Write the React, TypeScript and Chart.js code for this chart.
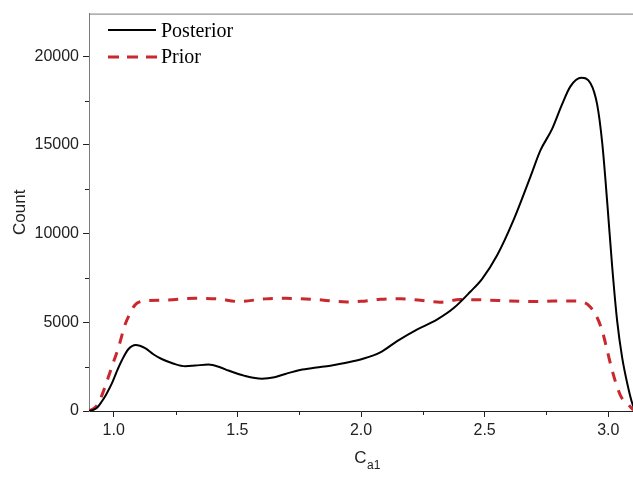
import { useEffect, useRef } from 'react';
import { Chart, registerables } from 'chart.js';

Chart.register(...registerables);

// ---- data ----
const POSTERIOR_X = [0.9, 0.93, 0.951, 0.97, 0.992, 1.01, 1.032, 1.059, 1.089, 1.127, 1.16, 1.194, 1.24, 1.289, 1.33, 1.383, 1.43, 1.464, 1.53, 1.599, 1.65, 1.694, 1.754, 1.82, 1.876, 1.94, 2.005, 2.078, 2.146, 2.226, 2.307, 2.375, 2.442, 2.49, 2.55, 2.618, 2.685, 2.726, 2.773, 2.813, 2.847, 2.891, 2.928, 2.955, 2.976, 2.996, 3.016, 3.036, 3.056, 3.077, 3.097, 3.11];
const POSTERIOR_Y = [0, 150, 520, 950, 1540, 2150, 2830, 3480, 3720, 3540, 3200, 2930, 2680, 2520, 2560, 2620, 2470, 2280, 1980, 1820, 1900, 2090, 2316, 2450, 2555, 2720, 2930, 3300, 3940, 4590, 5150, 5800, 6720, 7450, 8760, 10800, 13200, 14700, 15900, 17280, 18300, 18780, 18480, 17280, 15050, 11720, 8100, 5060, 3020, 1540, 430, 0];

const PRIOR_X = [0.9, 0.92, 0.938, 0.958, 0.978, 1.0, 1.019, 1.046, 1.066, 1.086, 1.11, 1.127, 1.221, 1.329, 1.423, 1.504, 1.613, 1.694, 1.8, 1.943, 2.0, 2.078, 2.159, 2.24, 2.32, 2.4, 2.5, 2.604, 2.712, 2.78, 2.861, 2.895, 2.915, 2.949, 2.976, 2.996, 3.016, 3.036, 3.056, 3.077, 3.095, 3.11];
const PRIOR_Y = [0, 150, 430, 1100, 1900, 2800, 3570, 4870, 5500, 5980, 6180, 6220, 6260, 6350, 6320, 6170, 6320, 6350, 6300, 6150, 6180, 6300, 6330, 6240, 6130, 6280, 6260, 6200, 6170, 6200, 6200, 6150, 6020, 5430, 4500, 3390, 2280, 1350, 700, 430, 150, 0];

const SERIES_NAMES = ['Posterior', 'Prior'];
const X_TICKS = [1.0, 1.5, 2.0, 2.5, 3.0];
const X_MINOR = [1.25, 1.75, 2.25, 2.75];
const Y_TICKS = [0, 5000, 10000, 15000, 20000];
const Y_MINOR = [2500, 7500, 12500, 17500];
const X_TITLE_MAIN = 'C';
const X_TITLE_SUB = 'a1';
const Y_TITLE = 'Count';

const RED = '#c8282e';
const SANS = '"Liberation Sans", Arial, sans-serif';
const SERIF = '"Liberation Serif", "Times New Roman", serif';

const decor = {
  id: 'decor',
  afterDraw(chart: any) {
    const { ctx, chartArea, scales } = chart;
    const { left, right, top, bottom } = chartArea;
    ctx.save();
    // top frame line
    ctx.strokeStyle = '#7a7a7a';
    ctx.lineWidth = 1;
    ctx.beginPath();
    ctx.moveTo(left, top + 0.5);
    ctx.lineTo(right, top + 0.5);
    ctx.stroke();

    // minor ticks
    ctx.strokeStyle = '#222';
    ctx.beginPath();
    X_MINOR.forEach((v) => {
      const px = Math.round(scales.x.getPixelForValue(v)) + 0.5;
      ctx.moveTo(px, bottom);
      ctx.lineTo(px, bottom + 4);
    });
    Y_MINOR.forEach((v) => {
      const py = Math.round(scales.y.getPixelForValue(v)) + 0.5;
      ctx.moveTo(left, py);
      ctx.lineTo(left - 4, py);
    });
    ctx.stroke();

    // legend
    const lx0 = left + 19;
    const lx1 = left + 67;
    const tx = left + 72;
    ctx.lineWidth = 2;
    ctx.strokeStyle = '#000';
    ctx.setLineDash([]);
    ctx.beginPath();
    ctx.moveTo(lx0, 30);
    ctx.lineTo(lx1, 30);
    ctx.stroke();
    ctx.lineWidth = 3;
    ctx.strokeStyle = RED;
    ctx.setLineDash([11, 8]);
    ctx.beginPath();
    ctx.moveTo(lx0, 57);
    ctx.lineTo(lx1 + 2, 57);
    ctx.stroke();
    ctx.setLineDash([]);
    ctx.fillStyle = '#000';
    ctx.font = `20px ${SERIF}`;
    ctx.textBaseline = 'alphabetic';
    ctx.textAlign = 'left';
    ctx.fillText(SERIES_NAMES[0], tx, 37);
    ctx.fillText(SERIES_NAMES[1], tx, 63);

    // x title with subscript
    ctx.fillStyle = '#222';
    ctx.font = `17px ${SANS}`;
    const wMain = ctx.measureText(X_TITLE_MAIN).width;
    ctx.font = `12px ${SANS}`;
    const wSub = ctx.measureText(X_TITLE_SUB).width;
    const cx = (left + (scales.x.getPixelForValue(2.0))) / 2;
    const centerX = scales.x.getPixelForValue(2.0) + 6;
    const startX = centerX - (wMain + wSub) / 2;
    ctx.font = `17px ${SANS}`;
    ctx.fillText(X_TITLE_MAIN, startX, 463);
    ctx.font = `12px ${SANS}`;
    ctx.fillText(X_TITLE_SUB, startX + wMain + 0.5, 469);
    void cx;
    ctx.restore();
  },
};

export default function App() {
  const ref = useRef<HTMLCanvasElement | null>(null);

  useEffect(() => {
    if (!ref.current) return;
    const chart = new Chart(ref.current, {
      type: 'line',
      data: {
        datasets: [
          {
            label: SERIES_NAMES[0],
            data: POSTERIOR_X.map((x, i) => ({ x, y: POSTERIOR_Y[i] })),
            borderColor: '#000',
            borderWidth: 2,
            pointRadius: 0,
            fill: false,
            cubicInterpolationMode: 'monotone',
            order: 0,
          },
          {
            label: SERIES_NAMES[1],
            data: PRIOR_X.map((x, i) => ({ x, y: PRIOR_Y[i] })),
            borderColor: RED,
            borderWidth: 3,
            borderDash: [10, 9],
            pointRadius: 0,
            fill: false,
            cubicInterpolationMode: 'monotone',
            order: 1,
          },
        ],
      },
      options: {
        responsive: false,
        animation: false,
        layout: { padding: { top: 7, right: 0, left: 0, bottom: 0 } },
        plugins: { legend: { display: false }, tooltip: { enabled: false } },
        scales: {
          x: {
            type: 'linear',
            min: 0.9,
            max: 3.1,
            afterBuildTicks: (s: any) => {
              s.ticks = X_TICKS.map((v) => ({ value: v }));
            },
            afterFit: (s: any) => {
              s.height = 66;
            },
            ticks: {
              callback: (v: any) => Number(v).toFixed(1),
              font: { family: SANS, size: 16 },
              color: '#222',
              padding: 4,
              maxRotation: 0,
              autoSkip: false,
            },
            grid: { display: true, drawOnChartArea: false, drawTicks: true, tickLength: 6, tickColor: '#222', color: '#222' },
            border: { display: true, color: '#222', width: 1 },
          },
          y: {
            type: 'linear',
            min: 0,
            max: 22400,
            afterBuildTicks: (s: any) => {
              s.ticks = Y_TICKS.map((v) => ({ value: v }));
            },
            afterFit: (s: any) => {
              s.width = 89;
            },
            ticks: {
              callback: (v: any) => String(v),
              font: { family: SANS, size: 16 },
              color: '#222',
              padding: 4,
              autoSkip: false,
            },
            grid: { display: true, drawOnChartArea: false, drawTicks: true, tickLength: 6, tickColor: '#222', color: '#222' },
            border: { display: true, color: '#7a7a7a', width: 1 },
            title: {
              display: true,
              text: Y_TITLE,
              font: { family: SANS, size: 17 },
              color: '#222',
              padding: { top: 10, bottom: 0 },
            },
          },
        },
      },
      plugins: [decor],
    } as any);
    return () => chart.destroy();
  }, []);

  return (
    <div style={{ position: 'fixed', left: 0, top: 0, width: 633, height: 477, background: '#fff' }}>
      <canvas ref={ref} width={633} height={477} style={{ display: 'block' }} />
    </div>
  );
}
